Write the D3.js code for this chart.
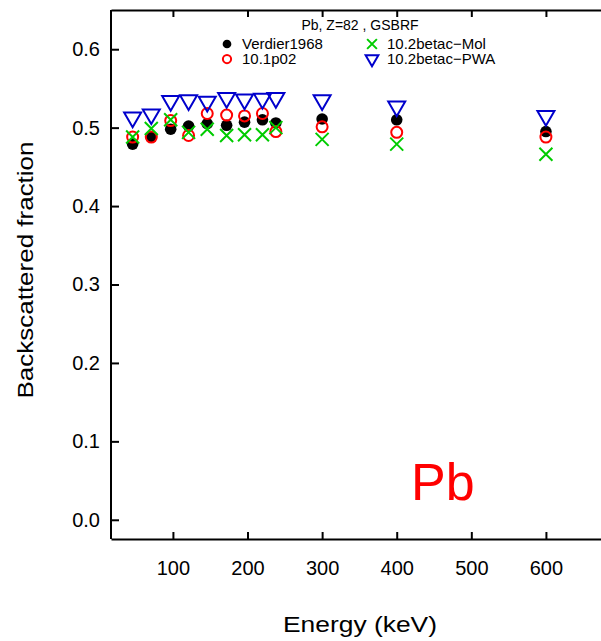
<!DOCTYPE html>
<html>
<head>
<meta charset="utf-8">
<script src="https://cdn.jsdelivr.net/npm/d3@7"></script>
<style>
body { margin: 0; background: #fff; }
text { font-family: "Liberation Sans", Arial, Helvetica, sans-serif; }
</style>
</head>
<body>
<script>
var w = 601;
var h = 641;

// data
var energy  = [46, 71, 97, 121, 146, 172, 196, 220, 238, 300, 400, 600];
var verdier = [0.479, 0.488, 0.498, 0.502, 0.505, 0.503, 0.507, 0.510, 0.506, 0.511, 0.510, 0.495];
var p02     = [0.488, 0.488, 0.509, 0.490, 0.518, 0.516, 0.515, 0.518, 0.495, 0.501, 0.494, 0.488];
var mol     = [0.488, 0.499, 0.510, 0.494, 0.498, 0.490, 0.491, 0.491, 0.500, 0.485, 0.479, 0.466];
var pwa     = [0.513, 0.517, 0.534, 0.535, 0.533, 0.538, 0.536, 0.537, 0.538, 0.535, 0.527, 0.515];
var xTicks = [100, 200, 300, 400, 500, 600];
var yTicks = [0.0, 0.1, 0.2, 0.3, 0.4, 0.5, 0.6];

var x = d3.scaleLinear().domain([17, 680]).range([111, 605.6]);
var y = d3.scaleLinear().domain([-0.0245, 0.65]).range([539, 10]);

var svg = d3.select("body")
    .append("svg")
    .attr("width", w)
    .attr("height", h);

// axes (ticks point inward)
var gl = svg.append("g").attr("transform", "translate(111,0)")
    .call(d3.axisLeft(y).tickValues(yTicks).tickFormat(d3.format(".1f"))
        .tickSizeInner(-8).tickSizeOuter(0).tickPadding(11));
var gb = svg.append("g").attr("transform", "translate(0,539)")
    .call(d3.axisBottom(x).tickValues(xTicks)
        .tickSizeInner(-7).tickSizeOuter(0).tickPadding(22));
var gt = svg.append("g").attr("transform", "translate(0,10)")
    .call(d3.axisTop(x).tickValues(xTicks).tickFormat("")
        .tickSizeInner(-7).tickSizeOuter(0));

[gl, gb, gt].forEach(function(g) {
    g.selectAll(".domain").attr("stroke", "#000").attr("stroke-width", 2);
    g.selectAll(".tick line").attr("stroke", "#000").attr("stroke-width", 2);
    g.selectAll("text").attr("fill", "#000").style("font-size", "20px")
        .style("font-family", "Liberation Sans, Arial, Helvetica, sans-serif");
});
gl.select(".domain").attr("d", "M0," + y.range()[0] + "V" + y.range()[1]);

// axis titles are a bit wider than the font gives
svg.append("text")
    .attr("transform", "translate(33,270) rotate(-90)")
    .attr("text-anchor", "middle")
    .attr("textLength", 257)
    .attr("lengthAdjust", "spacingAndGlyphs")
    .style("font-size", "22.5px")
    .text("Backscattered fraction");

svg.append("text")
    .attr("x", 360).attr("y", 632)
    .attr("text-anchor", "middle")
    .attr("textLength", 154)
    .attr("lengthAdjust", "spacingAndGlyphs")
    .style("font-size", "22.5px")
    .text("Energy (keV)");

svg.append("text")
    .attr("x", 411).attr("y", 500)
    .attr("fill", "#ff0000")
    .style("font-size", "52px")
    .text("Pb");

// marker drawers
var tri = d3.symbol().type(d3.symbolTriangle);
function marker(g, kind, cx, cy, k) {
    if (kind == "dot") {
        g.append("circle").attr("cx", cx).attr("cy", cy).attr("r", 5.8 * k).attr("fill", "#000");
    } else if (kind == "ring") {
        g.append("circle").attr("cx", cx).attr("cy", cy).attr("r", 5.5 * k)
            .attr("fill", "none").attr("stroke", "#ff0000").attr("stroke-width", 2);
    } else if (kind == "cross") {
        var s = 6.5 * k;
        g.append("path")
            .attr("d", "M" + (cx - s) + "," + (cy - s) + "L" + (cx + s) + "," + (cy + s) +
                       "M" + (cx - s) + "," + (cy + s) + "L" + (cx + s) + "," + (cy - s))
            .attr("stroke", "#00cc00").attr("stroke-width", 2).attr("fill", "none");
    } else {
        g.append("path")
            .attr("d", tri.size(125 * k * k)())
            .attr("transform", "translate(" + cx + "," + cy + ") rotate(180)")
            .attr("fill", "none").attr("stroke", "#0000cc").attr("stroke-width", 2);
    }
}

var series = [
    {name: "Verdier1968", kind: "dot", vals: verdier},
    {name: "10.1p02", kind: "ring", vals: p02},
    {name: "10.2betac-Mol", kind: "cross", vals: mol},
    {name: "10.2betac-PWA", kind: "tri", vals: pwa}
];

var pts = svg.append("g");
series.forEach(function(s) {
    s.vals.forEach(function(v, i) {
        marker(pts, s.kind, x(energy[i]), y(v), 1);
    });
});

// legend
svg.append("text")
    .attr("x", 360).attr("y", 30)
    .attr("text-anchor", "middle")
    .style("font-size", "14px")
    .text("Pb, Z=82 , GSBRF");

var lg = svg.append("g");
var legPos = [[227, 44], [227, 59], [372, 44], [372, 59]];
series.forEach(function(s, i) {
    var p = legPos[i];
    marker(lg, s.kind, p[0], p[1], 0.75);
    lg.append("text")
        .attr("x", p[0] + 15).attr("y", p[1] + 5)
        .style("font-size", "15px")
        .text(s.name.replace("-", "\u2212"));
});
</script>
</body>
</html>
